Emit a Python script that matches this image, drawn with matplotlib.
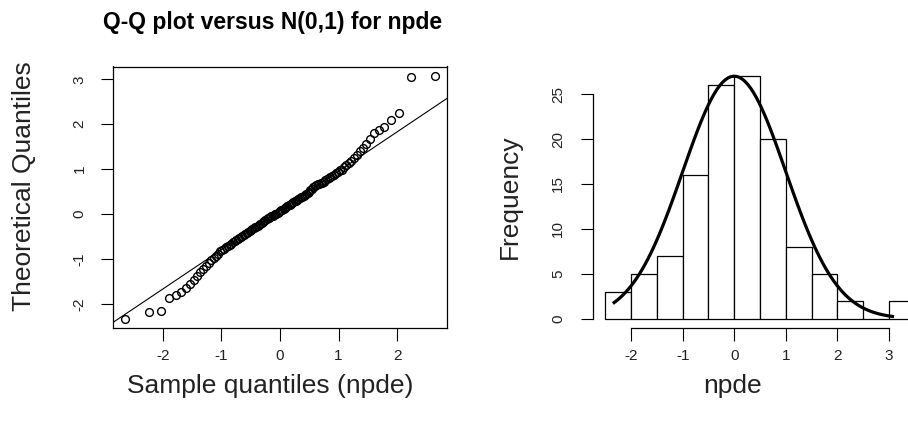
import numpy as np
import matplotlib
matplotlib.use('Agg')
import matplotlib.pyplot as plt
from statistics import NormalDist

plt.rcParams['font.family'] = ['Liberation Sans', 'DejaVu Sans']
plt.rcParams['axes.unicode_minus'] = False

npde = [
    -2.33, -2.19, -2.17,
    -1.88, -1.80, -1.73, -1.65, -1.56,
    -1.46, -1.38, -1.30, -1.22, -1.15, -1.09, -1.03,
    -0.97, -0.93, -0.88, -0.83, -0.80, -0.77, -0.74, -0.71,
    -0.68, -0.66, -0.63, -0.60, -0.58, -0.56, -0.53, -0.51,
    -0.48, -0.46, -0.44, -0.42, -0.40, -0.38, -0.36, -0.34, -0.32,
    -0.30, -0.28, -0.26, -0.24, -0.22, -0.20, -0.18, -0.16, -0.14,
    -0.12, -0.10, -0.08, -0.07, -0.05, -0.04, -0.02, -0.01,
    0.01, 0.03, 0.05, 0.07, 0.09, 0.10, 0.12, 0.14, 0.15,
    0.17, 0.19, 0.21, 0.22, 0.24, 0.26, 0.28, 0.30, 0.31,
    0.33, 0.35, 0.37, 0.39, 0.41, 0.43, 0.45, 0.47, 0.49,
    0.53, 0.56, 0.60, 0.63, 0.65, 0.66, 0.67, 0.68, 0.70, 0.72,
    0.75, 0.78, 0.80, 0.83, 0.85, 0.88, 0.91, 0.94, 0.97, 0.99,
    1.04, 1.09, 1.14, 1.19, 1.25, 1.32, 1.40, 1.47,
    1.56, 1.68, 1.80, 1.87, 1.93,
    2.09, 2.26,
    3.05, 3.07,
]
hist_breaks = [-2.5, -2.0, -1.5, -1.0, -0.5, 0.0, 0.5, 1.0, 1.5, 2.0, 2.5, 3.0, 3.5]
qq_xticks = [-2, -1, 0, 1, 2]
qq_yticks = [-2, -1, 0, 1, 2, 3]
hist_xticks = [-2, -1, 0, 1, 2, 3]
hist_yticks = [0, 5, 10, 15, 20, 25]

W, H = 908, 430
fig = plt.figure(figsize=(W / 100, H / 100), dpi=100)

def box(l, t, r, b):
    # pixel box -> figure fraction
    return [l / W, 1 - b / H, (r - l) / W, (b - t) / H]

def pad4(lo, hi):
    d = (hi - lo) * 0.04
    return lo - d, hi + d

def r_ticks(ax):
    ax.tick_params(direction='out', length=9, width=0.8, labelsize=11, color='black',
                   labelcolor='#222222')
    for lab in ax.get_yticklabels():
        lab.set_rotation(90)
        lab.set_va('center')

TOP, BOT = 66.5, 328.3
PH = BOT - TOP
LAB_Y = 386

y = np.array(npde)
n = len(y)
nd = NormalDist()
theo = np.array([nd.inv_cdf((i + 0.5) / n) for i in range(n)])

# ---------- Q-Q plot ----------
ax1 = fig.add_axes(box(113, TOP, 447, BOT))
ax1.plot(theo, y, 'o', mfc='none', mec='black', ms=5.6, mew=1.0)
q1, q3 = np.quantile(y, [0.25, 0.75])
z1, z3 = nd.inv_cdf(0.25), nd.inv_cdf(0.75)
slope = (q3 - q1) / (z3 - z1)
ax1.axline((0, q1 - slope * z1), slope=slope, color='black', lw=0.8)
ax1.set_xlim(pad4(theo.min(), theo.max()))
ax1.set_ylim(pad4(y.min(), y.max()))
ax1.set_xticks(qq_xticks)
ax1.set_yticks(qq_yticks)
for s in ax1.spines.values():
    s.set_linewidth(0.9)
r_ticks(ax1)
ax1.tick_params(axis='x', pad=6)
ax1.tick_params(axis='y', pad=10)
fig.text(273 / W, 1 - 22 / H, 'Q-Q plot versus N(0,1) for npde', fontsize=16.5,
         fontweight='bold', ha='center', va='center')
ax1.set_xlabel('Sample quantiles (npde)', fontsize=19, color='#222222')
ax1.set_ylabel('Theoretical Quantiles', fontsize=19, color='#222222')
ax1.xaxis.set_label_coords(0.47, (BOT - LAB_Y) / PH)
ax1.xaxis.label.set_va('center')
ax1.yaxis.set_label_coords((24 - 113) / 334, (BOT - 186) / PH)
ax1.yaxis.label.set_va('center')

# ---------- histogram ----------
ax2 = fig.add_axes(box(593, TOP, 927, BOT))
counts, _, _ = ax2.hist(y, bins=hist_breaks, facecolor='white', edgecolor='black', lw=0.9)
xs = np.linspace(y.min(), y.max(), 101)
dens = np.array([nd.pdf(v) for v in xs])
ax2.plot(xs, dens / dens.max() * counts.max(), color='black', lw=2.3)
ax2.set_xlim(pad4(hist_breaks[0], hist_breaks[-1]))
ax2.set_ylim(pad4(0, counts.max()))
ax2.set_xticks(hist_xticks)
ax2.set_yticks(hist_yticks)
ax2.spines['top'].set_visible(False)
ax2.spines['right'].set_visible(False)
ax2.spines['left'].set_bounds(hist_yticks[0], hist_yticks[-1])
ax2.spines['bottom'].set_bounds(hist_xticks[0], hist_xticks[-1])
ax2.spines['left'].set_linewidth(0.9)
ax2.spines['bottom'].set_linewidth(0.9)
r_ticks(ax2)
ax2.tick_params(axis='x', pad=6)
ax2.tick_params(axis='y', pad=11)
ax2.set_xlabel('npde', fontsize=19, color='#222222')
ax2.set_ylabel('Frequency', fontsize=19, color='#222222')
ax2.xaxis.set_label_coords((733 - 593) / 334, (BOT - LAB_Y) / PH)
ax2.xaxis.label.set_va('center')
ax2.yaxis.set_label_coords((510 - 593) / 334, (BOT - 197) / PH)
ax2.yaxis.label.set_va('center')

fig.savefig('out.png', dpi=100)
